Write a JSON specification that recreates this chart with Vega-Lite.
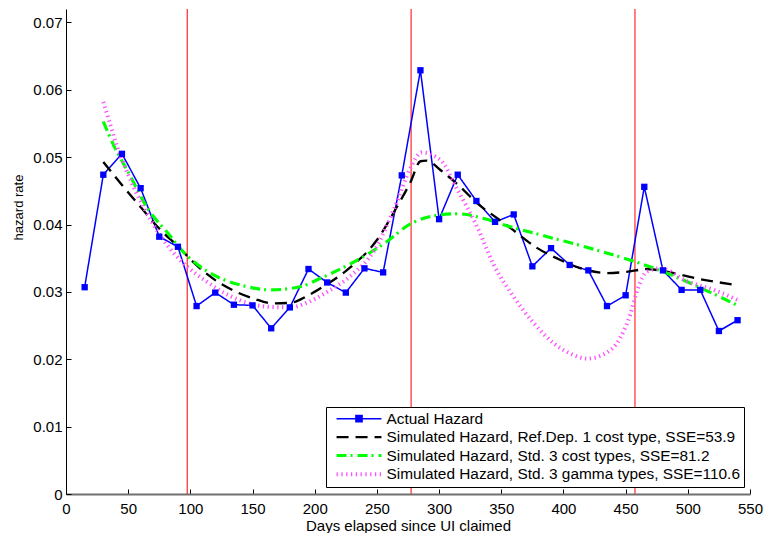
{
  "$schema": "https://vega.github.io/schema/vega-lite/v6.json",
  "width": 684,
  "height": 485,
  "autosize": {"type": "none"},
  "padding": {"left": 66, "top": 9, "right": 15, "bottom": 39},
  "background": "white",
  "config": {
    "view": {"stroke": null},
    "font": "Liberation Sans",
    "axis": {"grid": false, "labelFont": "Liberation Sans", "titleFont": "Liberation Sans", "labelColor": "black", "titleColor": "black", "titleFontWeight": "normal", "tickColor": "black"},
    "legend": {
      "orient": "none",
      "legendX": 260,
      "legendY": 398,
      "strokeColor": "black",
      "fillColor": "white",
      "padding": 4,
      "symbolType": "M-4,0H4",
      "symbolSize": 126,
      "symbolOffset": 21,
      "labelFont": "Liberation Sans",
      "labelFontSize": 15.4,
      "labelColor": "black",
      "labelLimit": 500,
      "rowPadding": 1.4,
      "labelOffset": 19.5,
      "title": null
    }
  },
  "datasets": {
    "markers": [
      {"day": 97.5},
      {"day": 277.5},
      {"day": 457.5}
    ],
    "hazard": [
      {"series": "Actual Hazard", "day": 15, "rate": 0.0307},
      {"series": "Actual Hazard", "day": 30, "rate": 0.0474},
      {"series": "Actual Hazard", "day": 45, "rate": 0.0505},
      {"series": "Actual Hazard", "day": 60, "rate": 0.0454},
      {"series": "Actual Hazard", "day": 75, "rate": 0.0382},
      {"series": "Actual Hazard", "day": 90, "rate": 0.0367},
      {"series": "Actual Hazard", "day": 105, "rate": 0.0279},
      {"series": "Actual Hazard", "day": 120, "rate": 0.0299},
      {"series": "Actual Hazard", "day": 135, "rate": 0.0281},
      {"series": "Actual Hazard", "day": 150, "rate": 0.0280},
      {"series": "Actual Hazard", "day": 165, "rate": 0.0246},
      {"series": "Actual Hazard", "day": 180, "rate": 0.0277},
      {"series": "Actual Hazard", "day": 195, "rate": 0.0334},
      {"series": "Actual Hazard", "day": 210, "rate": 0.0314},
      {"series": "Actual Hazard", "day": 225, "rate": 0.0299},
      {"series": "Actual Hazard", "day": 240, "rate": 0.0335},
      {"series": "Actual Hazard", "day": 255, "rate": 0.0329},
      {"series": "Actual Hazard", "day": 270, "rate": 0.0473},
      {"series": "Actual Hazard", "day": 285, "rate": 0.0629},
      {"series": "Actual Hazard", "day": 300, "rate": 0.0408},
      {"series": "Actual Hazard", "day": 315, "rate": 0.0474},
      {"series": "Actual Hazard", "day": 330, "rate": 0.0435},
      {"series": "Actual Hazard", "day": 345, "rate": 0.0404},
      {"series": "Actual Hazard", "day": 360, "rate": 0.0415},
      {"series": "Actual Hazard", "day": 375, "rate": 0.0338},
      {"series": "Actual Hazard", "day": 390, "rate": 0.0365},
      {"series": "Actual Hazard", "day": 405, "rate": 0.0340},
      {"series": "Actual Hazard", "day": 420, "rate": 0.0332},
      {"series": "Actual Hazard", "day": 435, "rate": 0.0279},
      {"series": "Actual Hazard", "day": 450, "rate": 0.0295},
      {"series": "Actual Hazard", "day": 465, "rate": 0.0456},
      {"series": "Actual Hazard", "day": 480, "rate": 0.0332},
      {"series": "Actual Hazard", "day": 495, "rate": 0.0303},
      {"series": "Actual Hazard", "day": 510, "rate": 0.0303},
      {"series": "Actual Hazard", "day": 525, "rate": 0.0242},
      {"series": "Actual Hazard", "day": 540, "rate": 0.0258},

      {"series": "Simulated Hazard, Ref.Dep. 1 cost type, SSE=53.9", "day": 30, "rate": 0.0493},
      {"series": "Simulated Hazard, Ref.Dep. 1 cost type, SSE=53.9", "day": 44, "rate": 0.0461},
      {"series": "Simulated Hazard, Ref.Dep. 1 cost type, SSE=53.9", "day": 60, "rate": 0.0426},
      {"series": "Simulated Hazard, Ref.Dep. 1 cost type, SSE=53.9", "day": 76, "rate": 0.0392},
      {"series": "Simulated Hazard, Ref.Dep. 1 cost type, SSE=53.9", "day": 91, "rate": 0.0366},
      {"series": "Simulated Hazard, Ref.Dep. 1 cost type, SSE=53.9", "day": 103, "rate": 0.0343},
      {"series": "Simulated Hazard, Ref.Dep. 1 cost type, SSE=53.9", "day": 122, "rate": 0.0315},
      {"series": "Simulated Hazard, Ref.Dep. 1 cost type, SSE=53.9", "day": 137, "rate": 0.0300},
      {"series": "Simulated Hazard, Ref.Dep. 1 cost type, SSE=53.9", "day": 151, "rate": 0.0290},
      {"series": "Simulated Hazard, Ref.Dep. 1 cost type, SSE=53.9", "day": 166, "rate": 0.0283},
      {"series": "Simulated Hazard, Ref.Dep. 1 cost type, SSE=53.9", "day": 181, "rate": 0.0284},
      {"series": "Simulated Hazard, Ref.Dep. 1 cost type, SSE=53.9", "day": 194, "rate": 0.0294},
      {"series": "Simulated Hazard, Ref.Dep. 1 cost type, SSE=53.9", "day": 206, "rate": 0.0307},
      {"series": "Simulated Hazard, Ref.Dep. 1 cost type, SSE=53.9", "day": 229, "rate": 0.0337},
      {"series": "Simulated Hazard, Ref.Dep. 1 cost type, SSE=53.9", "day": 250, "rate": 0.0377},
      {"series": "Simulated Hazard, Ref.Dep. 1 cost type, SSE=53.9", "day": 266, "rate": 0.0426},
      {"series": "Simulated Hazard, Ref.Dep. 1 cost type, SSE=53.9", "day": 277, "rate": 0.0463},
      {"series": "Simulated Hazard, Ref.Dep. 1 cost type, SSE=53.9", "day": 285, "rate": 0.0494},
      {"series": "Simulated Hazard, Ref.Dep. 1 cost type, SSE=53.9", "day": 290, "rate": 0.0495},
      {"series": "Simulated Hazard, Ref.Dep. 1 cost type, SSE=53.9", "day": 301, "rate": 0.0481},
      {"series": "Simulated Hazard, Ref.Dep. 1 cost type, SSE=53.9", "day": 317, "rate": 0.0456},
      {"series": "Simulated Hazard, Ref.Dep. 1 cost type, SSE=53.9", "day": 331, "rate": 0.0431},
      {"series": "Simulated Hazard, Ref.Dep. 1 cost type, SSE=53.9", "day": 347, "rate": 0.0409},
      {"series": "Simulated Hazard, Ref.Dep. 1 cost type, SSE=53.9", "day": 358, "rate": 0.0394},
      {"series": "Simulated Hazard, Ref.Dep. 1 cost type, SSE=53.9", "day": 379, "rate": 0.0365},
      {"series": "Simulated Hazard, Ref.Dep. 1 cost type, SSE=53.9", "day": 398, "rate": 0.0347},
      {"series": "Simulated Hazard, Ref.Dep. 1 cost type, SSE=53.9", "day": 414, "rate": 0.0335},
      {"series": "Simulated Hazard, Ref.Dep. 1 cost type, SSE=53.9", "day": 435, "rate": 0.0328},
      {"series": "Simulated Hazard, Ref.Dep. 1 cost type, SSE=53.9", "day": 452, "rate": 0.0330},
      {"series": "Simulated Hazard, Ref.Dep. 1 cost type, SSE=53.9", "day": 467, "rate": 0.0334},
      {"series": "Simulated Hazard, Ref.Dep. 1 cost type, SSE=53.9", "day": 483, "rate": 0.0330},
      {"series": "Simulated Hazard, Ref.Dep. 1 cost type, SSE=53.9", "day": 507, "rate": 0.0320},
      {"series": "Simulated Hazard, Ref.Dep. 1 cost type, SSE=53.9", "day": 540, "rate": 0.0310},

      {"series": "Simulated Hazard, Std. 3 cost types, SSE=81.2", "day": 30, "rate": 0.0553},
      {"series": "Simulated Hazard, Std. 3 cost types, SSE=81.2", "day": 39, "rate": 0.0515},
      {"series": "Simulated Hazard, Std. 3 cost types, SSE=81.2", "day": 50, "rate": 0.0478},
      {"series": "Simulated Hazard, Std. 3 cost types, SSE=81.2", "day": 66, "rate": 0.0423},
      {"series": "Simulated Hazard, Std. 3 cost types, SSE=81.2", "day": 82, "rate": 0.0387},
      {"series": "Simulated Hazard, Std. 3 cost types, SSE=81.2", "day": 95, "rate": 0.0358},
      {"series": "Simulated Hazard, Std. 3 cost types, SSE=81.2", "day": 116, "rate": 0.0328},
      {"series": "Simulated Hazard, Std. 3 cost types, SSE=81.2", "day": 143, "rate": 0.0309},
      {"series": "Simulated Hazard, Std. 3 cost types, SSE=81.2", "day": 165, "rate": 0.0303},
      {"series": "Simulated Hazard, Std. 3 cost types, SSE=81.2", "day": 189, "rate": 0.0308},
      {"series": "Simulated Hazard, Std. 3 cost types, SSE=81.2", "day": 202, "rate": 0.0318},
      {"series": "Simulated Hazard, Std. 3 cost types, SSE=81.2", "day": 229, "rate": 0.0342},
      {"series": "Simulated Hazard, Std. 3 cost types, SSE=81.2", "day": 256, "rate": 0.0372},
      {"series": "Simulated Hazard, Std. 3 cost types, SSE=81.2", "day": 277, "rate": 0.0401},
      {"series": "Simulated Hazard, Std. 3 cost types, SSE=81.2", "day": 299, "rate": 0.0414},
      {"series": "Simulated Hazard, Std. 3 cost types, SSE=81.2", "day": 315, "rate": 0.0416},
      {"series": "Simulated Hazard, Std. 3 cost types, SSE=81.2", "day": 336, "rate": 0.0409},
      {"series": "Simulated Hazard, Std. 3 cost types, SSE=81.2", "day": 355, "rate": 0.0398},
      {"series": "Simulated Hazard, Std. 3 cost types, SSE=81.2", "day": 387, "rate": 0.0382},
      {"series": "Simulated Hazard, Std. 3 cost types, SSE=81.2", "day": 427, "rate": 0.0362},
      {"series": "Simulated Hazard, Std. 3 cost types, SSE=81.2", "day": 459, "rate": 0.0344},
      {"series": "Simulated Hazard, Std. 3 cost types, SSE=81.2", "day": 483, "rate": 0.0328},
      {"series": "Simulated Hazard, Std. 3 cost types, SSE=81.2", "day": 515, "rate": 0.0302},
      {"series": "Simulated Hazard, Std. 3 cost types, SSE=81.2", "day": 540, "rate": 0.0280},

      {"series": "Simulated Hazard, Std. 3 gamma types, SSE=110.6", "day": 30, "rate": 0.0582},
      {"series": "Simulated Hazard, Std. 3 gamma types, SSE=110.6", "day": 35, "rate": 0.0552},
      {"series": "Simulated Hazard, Std. 3 gamma types, SSE=110.6", "day": 40, "rate": 0.0522},
      {"series": "Simulated Hazard, Std. 3 gamma types, SSE=110.6", "day": 50, "rate": 0.0474},
      {"series": "Simulated Hazard, Std. 3 gamma types, SSE=110.6", "day": 68, "rate": 0.0407},
      {"series": "Simulated Hazard, Std. 3 gamma types, SSE=110.6", "day": 82, "rate": 0.0368},
      {"series": "Simulated Hazard, Std. 3 gamma types, SSE=110.6", "day": 92, "rate": 0.0347},
      {"series": "Simulated Hazard, Std. 3 gamma types, SSE=110.6", "day": 111, "rate": 0.0318},
      {"series": "Simulated Hazard, Std. 3 gamma types, SSE=110.6", "day": 133, "rate": 0.0293},
      {"series": "Simulated Hazard, Std. 3 gamma types, SSE=110.6", "day": 162, "rate": 0.0278},
      {"series": "Simulated Hazard, Std. 3 gamma types, SSE=110.6", "day": 180, "rate": 0.0277},
      {"series": "Simulated Hazard, Std. 3 gamma types, SSE=110.6", "day": 195, "rate": 0.0285},
      {"series": "Simulated Hazard, Std. 3 gamma types, SSE=110.6", "day": 210, "rate": 0.0300},
      {"series": "Simulated Hazard, Std. 3 gamma types, SSE=110.6", "day": 229, "rate": 0.0324},
      {"series": "Simulated Hazard, Std. 3 gamma types, SSE=110.6", "day": 248, "rate": 0.0362},
      {"series": "Simulated Hazard, Std. 3 gamma types, SSE=110.6", "day": 264, "rate": 0.0424},
      {"series": "Simulated Hazard, Std. 3 gamma types, SSE=110.6", "day": 277, "rate": 0.0484},
      {"series": "Simulated Hazard, Std. 3 gamma types, SSE=110.6", "day": 286, "rate": 0.0507},
      {"series": "Simulated Hazard, Std. 3 gamma types, SSE=110.6", "day": 301, "rate": 0.0496},
      {"series": "Simulated Hazard, Std. 3 gamma types, SSE=110.6", "day": 315, "rate": 0.0451},
      {"series": "Simulated Hazard, Std. 3 gamma types, SSE=110.6", "day": 331, "rate": 0.0395},
      {"series": "Simulated Hazard, Std. 3 gamma types, SSE=110.6", "day": 344, "rate": 0.0340},
      {"series": "Simulated Hazard, Std. 3 gamma types, SSE=110.6", "day": 358, "rate": 0.0298},
      {"series": "Simulated Hazard, Std. 3 gamma types, SSE=110.6", "day": 376, "rate": 0.0254},
      {"series": "Simulated Hazard, Std. 3 gamma types, SSE=110.6", "day": 392, "rate": 0.0224},
      {"series": "Simulated Hazard, Std. 3 gamma types, SSE=110.6", "day": 406, "rate": 0.0208},
      {"series": "Simulated Hazard, Std. 3 gamma types, SSE=110.6", "day": 419, "rate": 0.0201},
      {"series": "Simulated Hazard, Std. 3 gamma types, SSE=110.6", "day": 432, "rate": 0.0207},
      {"series": "Simulated Hazard, Std. 3 gamma types, SSE=110.6", "day": 446, "rate": 0.0233},
      {"series": "Simulated Hazard, Std. 3 gamma types, SSE=110.6", "day": 454, "rate": 0.0268},
      {"series": "Simulated Hazard, Std. 3 gamma types, SSE=110.6", "day": 460, "rate": 0.0306},
      {"series": "Simulated Hazard, Std. 3 gamma types, SSE=110.6", "day": 467, "rate": 0.0330},
      {"series": "Simulated Hazard, Std. 3 gamma types, SSE=110.6", "day": 478, "rate": 0.0335},
      {"series": "Simulated Hazard, Std. 3 gamma types, SSE=110.6", "day": 499, "rate": 0.0316},
      {"series": "Simulated Hazard, Std. 3 gamma types, SSE=110.6", "day": 521, "rate": 0.0303},
      {"series": "Simulated Hazard, Std. 3 gamma types, SSE=110.6", "day": 540, "rate": 0.0288}
    ]
  },
  "encoding": {
    "x": {
      "field": "day",
      "type": "quantitative",
      "scale": {"domain": [0, 550], "nice": false, "zero": false},
      "axis": {
        "title": "Days elapsed since UI claimed",
        "values": [0, 50, 100, 150, 200, 250, 300, 350, 400, 450, 500, 550],
        "labelFontSize": 15,
        "titleFontSize": 15,
        "tickSize": -5,
        "labelPadding": 12,
        "domainColor": "#707070",
        "domainWidth": 2,
        "titleY": 36,
        "titleBaseline": "alphabetic",
        "labelFlush": false,
        "labelOverlap": false
      }
    },
    "y": {
      "field": "rate",
      "type": "quantitative",
      "scale": {"domain": [0, 0.072], "nice": false, "zero": false},
      "axis": {
        "title": "hazard rate",
        "values": [0, 0.01, 0.02, 0.03, 0.04, 0.05, 0.06, 0.07],
        "labelExpr": "datum.value == 0 ? '0' : format(datum.value, '.2f')",
        "labelFontSize": 15,
        "titleFontSize": 13,
        "tickSize": -5,
        "labelPadding": 9,
        "domainColor": "black",
        "titleX": -44,
        "titleY": 198,
        "titleAngle": -90,
        "titleAlign": "center",
        "titleBaseline": "alphabetic",
        "labelFlush": false,
        "labelOverlap": false
      }
    },
    "color": {
      "field": "series",
      "type": "nominal",
      "sort": null,
      "scale": {
        "domain": [
          "Actual Hazard",
          "Simulated Hazard, Ref.Dep. 1 cost type, SSE=53.9",
          "Simulated Hazard, Std. 3 cost types, SSE=81.2",
          "Simulated Hazard, Std. 3 gamma types, SSE=110.6"
        ],
        "range": ["#0000ff", "#000000", "#00ff00", "#ff50ff"]
      },
      "legend": {
        "title": null,
        "encode": {
          "symbols": {
            "update": {
              "shape": {"signal": "datum.value == 'Actual Hazard' ? 'M-4,0H4M-0.55,-0.55H0.55V0.55H-0.55Z' : 'M-4,0H4'"},
              "fill": {"signal": "datum.value == 'Actual Hazard' ? '#0000ff' : 'transparent'"}
            }
          }
        }
      }
    },
    "strokeDash": {
      "field": "series",
      "type": "nominal",
      "sort": null,
      "scale": {
        "domain": [
          "Actual Hazard",
          "Simulated Hazard, Ref.Dep. 1 cost type, SSE=53.9",
          "Simulated Hazard, Std. 3 cost types, SSE=81.2",
          "Simulated Hazard, Std. 3 gamma types, SSE=110.6"
        ],
        "range": [[1, 0], [12, 7], [10, 4, 2, 5], [1.3, 3.5]]
      },
      "legend": {"title": null}
    },
    "strokeWidth": {
      "field": "series",
      "type": "ordinal",
      "sort": null,
      "scale": {
        "domain": [
          "Actual Hazard",
          "Simulated Hazard, Ref.Dep. 1 cost type, SSE=53.9",
          "Simulated Hazard, Std. 3 cost types, SSE=81.2",
          "Simulated Hazard, Std. 3 gamma types, SSE=110.6"
        ],
        "range": [1.5, 4, 4, 1]
      },
      "legend": {"title": null}
    }
  },
  "layer": [
    {
      "data": {"name": "markers"},
      "mark": {"type": "rule", "color": "#ff2a2a", "strokeWidth": 1.2},
      "encoding": {
        "x": {"field": "day", "type": "quantitative"},
        "y": null,
        "color": null,
        "strokeDash": null,
        "strokeWidth": null
      }
    },
    {
      "data": {"name": "hazard"},
      "transform": [{"filter": "datum.series == 'Actual Hazard'"}],
      "mark": {"type": "line", "interpolate": "linear"},
      "encoding": {"order": {"field": "day", "type": "quantitative"}}
    },
    {
      "data": {"name": "hazard"},
      "transform": [{"filter": "datum.series != 'Actual Hazard'"}],
      "mark": {"type": "line", "interpolate": "monotone"},
      "encoding": {"order": {"field": "day", "type": "quantitative"}}
    },
    {
      "data": {"name": "hazard"},
      "transform": [{"filter": "datum.series == 'Actual Hazard'"}],
      "mark": {"type": "point", "shape": "square", "filled": true, "size": 40, "color": "#0000ff", "opacity": 1},
      "encoding": {"color": null, "strokeDash": null, "strokeWidth": null}
    }
  ]
}
